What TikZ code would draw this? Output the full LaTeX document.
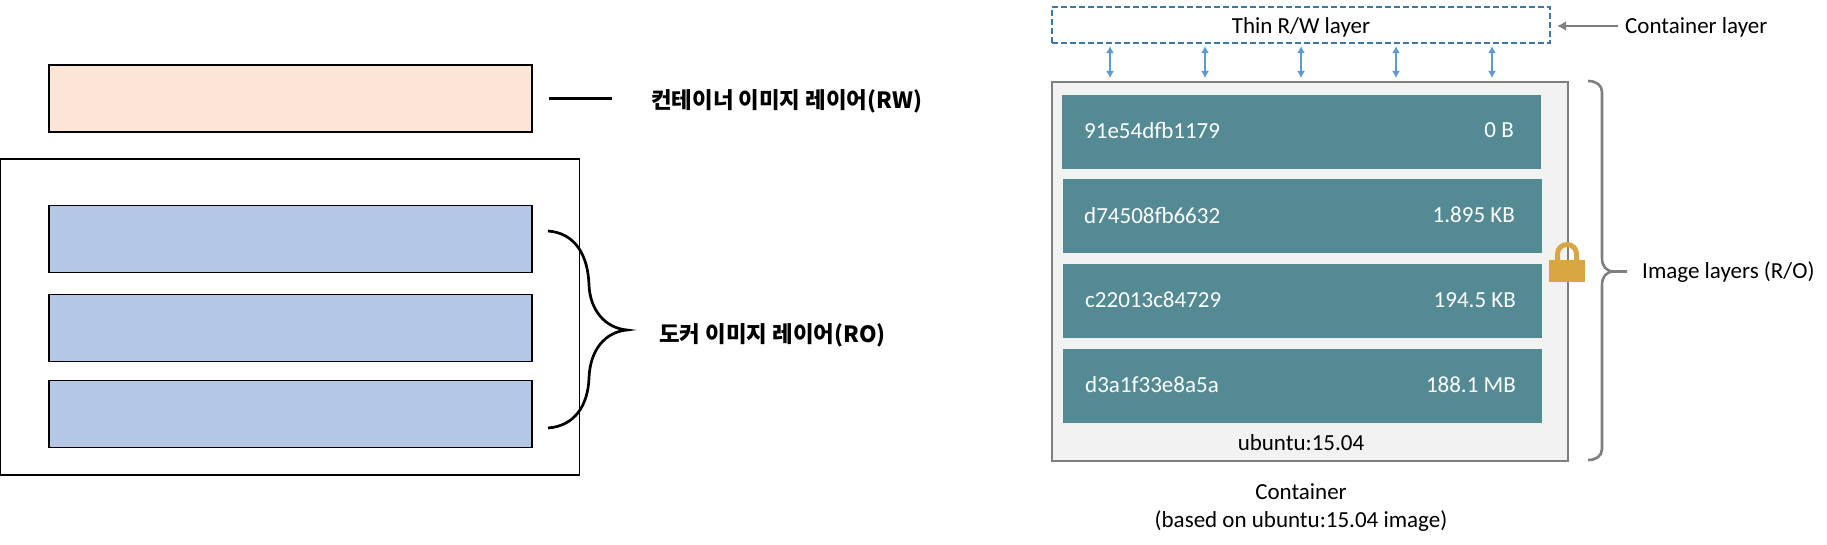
\documentclass[tikz,border=0pt]{standalone}
\usepackage{fontspec}
\setmainfont{Carlito}
\newfontfamily\krfont{Noto Sans CJK KR}
\usetikzlibrary{arrows.meta,calc}
\definecolor{peach}{HTML}{FBE5D6}
\definecolor{bluebar}{HTML}{B4C7E7}
\definecolor{teal}{HTML}{538A94}
\definecolor{boxfill}{HTML}{F2F2F2}
\definecolor{boxline}{HTML}{7F7F7F}
\definecolor{dashblue}{HTML}{3A78A8}
\definecolor{arrowblue}{HTML}{5B9BD5}
\definecolor{lockgold}{HTML}{D9A741}
\tikzset{
  leftbar/.style={draw=black,line width=1.8pt,minimum width=483pt,minimum height=67pt,inner sep=0pt},
  tealbar/.style={fill=teal,draw=none,minimum width=479pt,minimum height=74pt,inner sep=0pt},
  krlabel/.style={font=\krfont\bfseries\fontsize{22.4}{26}\selectfont,inner sep=0pt,anchor=west,text=black},
  idlabel/.style={text=white,font=\fontsize{23}{27}\selectfont,inner sep=0pt,anchor=west},
  sizelabel/.style={text=white,font=\fontsize{23}{27}\selectfont,inner sep=0pt,anchor=east},
  blacklabel/.style={text=black,font=\fontsize{23}{27}\selectfont,inner sep=0pt},
  rwarrow/.style={arrowblue,line width=1.8pt,{Latex[length=7pt,width=8pt]}-{Latex[length=7pt,width=8pt]},shorten >=3pt,shorten <=2pt}
}
\begin{document}
\begin{tikzpicture}[x=1pt,y=-1pt]
\useasboundingbox (0,0) rectangle (1827,545);
% left part
\node[draw=black,line width=1.8pt,minimum width=579pt,minimum height=316pt,inner sep=0pt] (outer) at (290,317) {};
\node[leftbar,fill=peach] (rw) at (290.5,98.5) {};
\node[leftbar,fill=bluebar] (ro1) at (290.5,239) {};
\node[leftbar,fill=bluebar] (ro2) at (290.5,328) {};
\node[leftbar,fill=bluebar] (ro3) at (290.5,414) {};
\node[krlabel] (rwlabel) at (651,101) {컨테이너 이미지 레이어(RW)};
\node[krlabel] (rolabel) at (659,335) {도커 이미지 레이어(RO)};
\coordinate (rwend) at (612,99);
\draw[black,line width=3pt] ([xshift=16pt,yshift=-0.5pt]rw.east) -- (rwend);
\coordinate (bt) at (548,231);
\coordinate (bb) at (548,428);
\coordinate (btip) at (627,330);
\draw[black,line width=2.7pt] (bt) .. controls (575,233) and (588,255) .. (589,285)
  .. controls (590,310) and (605,328) .. (btip)
  .. controls (605,332) and (590,350) .. (589,378)
  .. controls (588,405) and (575,426) .. (bb);
% right part
\node[draw=dashblue,dash pattern=on 6pt off 3pt,line width=2.2pt,minimum width=498pt,minimum height=36pt,inner sep=0pt] (thin) at (1301,25) {};
\node[blacklabel] (thinlabel) at (1301,27) {Thin R/W layer};
\node[draw=boxline,fill=boxfill,line width=2pt,minimum width=516pt,minimum height=379pt,inner sep=0pt] (big) at (1310,271.5) {};
\node[tealbar] (l1) at (1301.5,132) {};
\node[tealbar] (l2) at (1302,216) {};
\node[tealbar] (l3) at (1302.5,301) {};
\node[tealbar] (l4) at (1302.5,386) {};
\node[idlabel] (id1) at (1084,130) {91e54dfb1179};
\node[sizelabel] (sz1) at (1514,130) {0 B};
\node[idlabel] (id2) at (1084,215) {d74508fb6632};
\node[sizelabel] (sz2) at (1515,215) {1.895 KB};
\node[idlabel] (id3) at (1085,300) {c22013c84729};
\node[sizelabel] (sz3) at (1516,300) {194.5 KB};
\node[idlabel] (id4) at (1085,385) {d3a1f33e8a5a};
\node[sizelabel] (sz4) at (1516,385) {188.1 MB};
\node[blacklabel] (ubuntu) at (1301,443) {ubuntu:15.04};
\node[blacklabel] (cont) at (1301,492) {Container};
\node[blacklabel] (based) at (1301,521) {(based on ubuntu:15.04 image)};
\node[blacklabel,anchor=west] (clayer) at (1625,27) {Container layer};
\node[blacklabel,anchor=west] (ilayer) at (1642,272) {Image layers (R/O)};
\foreach \n/\x in {a1/1110,a2/1205,a3/1301,a4/1396,a5/1492}{
  \coordinate (\n) at (\x,60);
  \draw[rwarrow] (thin.south -| \n) -- (big.north -| \n);
}
\draw[boxline,line width=2.2pt,-{Latex[length=9pt,width=10pt]},shorten >=6pt] (1618,26) coordinate (cstart) -- (cstart -| thin.east);
% image-layer brace
\coordinate (gt) at (1588,81);
\coordinate (gb) at (1588,460);
\coordinate (gtip) at (1627,271.5);
\draw[boxline,line width=2.6pt] (gt) .. controls (1596,81) and (1602,85) .. (1602,92)
  -- (1602,258) .. controls (1602,266) and (1606,271.5) .. (1614,271.5) -- (gtip);
\draw[boxline,line width=2.6pt] (gb) .. controls (1596,460) and (1602,456) .. (1602,449)
  -- (1602,285) .. controls (1602,277) and (1606,271.5) .. (1614,271.5);
% lock
\draw[lockgold,line width=5pt] (1557.5,262) -- (1557.5,254) arc[start angle=180,end angle=360,radius=9.5] -- (1576.5,262);
\node[fill=lockgold,minimum width=36pt,minimum height=22pt,inner sep=0pt] (lock) at (1567,271) {};
\end{tikzpicture}
\end{document}
